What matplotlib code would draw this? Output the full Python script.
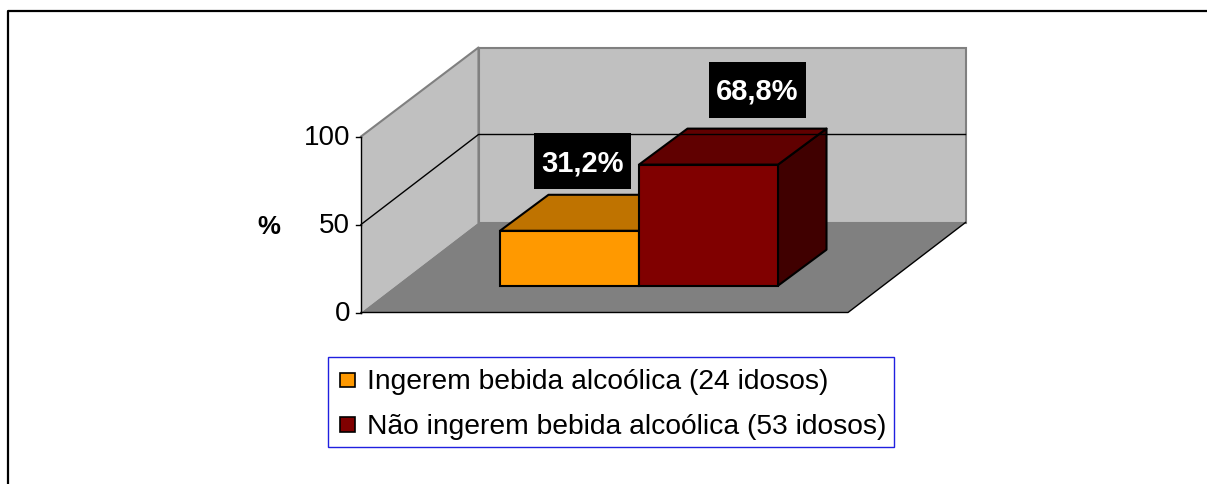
#!/usr/bin/env python3
import matplotlib
matplotlib.use("Agg")
import matplotlib.pyplot as plt
from matplotlib.patches import Polygon, Rectangle

labels = ["Ingerem bebida alcoólica (24 idosos)", "Não ingerem bebida alcoólica (53 idosos)"]
values = [31.2, 68.8]
value_labels = ["31,2%", "68,8%"]
y_ticks = [0, 50, 100]

FRONT = ["#FF9900", "#800000"]
TOP = ["#BF7300", "#600000"]
SIDE = ["#804D00", "#400000"]

W, H = 1207, 484
PX = 1.76  # pixels per percent
Y0 = 312.5  # pixel row of 0 %


def py(p):
    # pixel row -> percent
    return (Y0 - p) / PX


plt.rcParams["font.family"] = ["Liberation Sans", "DejaVu Sans"]

fig = plt.figure(figsize=(W / 100, H / 100), dpi=100)
ax = fig.add_axes([0, 0, 1, 1])
ax.set_xlim(0, W)
ax.set_ylim(py(H), py(0))
ax.axis("off")

# outer frame, only left and top are visible
ax.plot([7.5, 7.5, W], [py(H), py(11), py(11)], color="black", lw=1.6)

# walls and floor
dx, dy = 117.5, 90 / PX
x0, x1 = 361, 848
wall_top = py(47.5)
ax.add_patch(Polygon([(x0, 0), (x0 + dx, dy), (x0 + dx, wall_top), (x0, 100)],
                     fc="#C0C0C0", ec="none"))
ax.add_patch(Polygon([(x0 + dx, dy), (x1 + dx, dy), (x1 + dx, wall_top), (x0 + dx, wall_top)],
                     fc="#C0C0C0", ec="#808080", lw=1.5))
ax.add_patch(Polygon([(x0, 0), (x1, 0), (x1 + dx, dy), (x0 + dx, dy)], fc="#808080", ec="none"))
ax.plot([x0, x0 + dx, x0 + dx], [100, wall_top, dy], color="#808080", lw=1.5)

# gridline
ax.plot([x0, x0 + dx, x1 + dx], [50, 50 + dy, 50 + dy], color="black", lw=1)
ax.plot([x0, x1, x1 + dx], [0, 0, dy], color="black", lw=1)

# y axis
ax.plot([x0, x0], [0, 100], color="black", lw=1)
for t in y_ticks:
    ax.plot([x0 - 5, x0], [t, t], color="black", lw=1)
    ax.text(x0 - 11, t - 1, str(t), ha="right", va="center", fontsize=20, color="black")
ax.text(269, py(227), "%", ha="center", va="center", fontsize=18.5, fontweight="bold")

# bars
base = py(285.7)
bar_w = 139
bar_x = [500, 639]
bdx, bdy = 48.5, 36 / PX
for x, v, f, t, s in zip(bar_x, values, FRONT, TOP, SIDE):
    y = base + v
    ax.add_patch(Polygon([(x + bar_w, base), (x + bar_w + bdx, base + bdy),
                          (x + bar_w + bdx, y + bdy), (x + bar_w, y)],
                         fc=s, ec="black", lw=1.5, joinstyle="round"))
    ax.add_patch(Polygon([(x, y), (x + bar_w, y), (x + bar_w + bdx, y + bdy), (x + bdx, y + bdy)],
                         fc=t, ec="black", lw=1.5, joinstyle="round"))
    ax.add_patch(Rectangle((x, base), bar_w, v, fc=f, ec="black", lw=1.5))

# value labels
for cx, cy, s in zip([582.5, 757.5], [161, 90], value_labels):
    ax.add_patch(Rectangle((cx - 48.5, py(cy + 28)), 97, 56 / PX, fc="black", ec="none"))
    ax.text(cx, py(cy + 2), s, color="white", ha="center", va="center",
            fontsize=21, fontweight="bold")

# legend
ax.add_patch(Rectangle((327.5, py(446.5)), 566, 89.5 / PX, fc="white", ec="#2020E0", lw=1))
for row, f, s in zip([380, 424.5], FRONT, labels):
    ax.add_patch(Rectangle((340, py(row + 7)), 15, 14.5 / PX, fc=f, ec="black", lw=1.2))
    ax.text(367, py(row + 2), s, ha="left", va="center", fontsize=20.3)

fig.savefig("out.png", dpi=100)
plt.close(fig)
print("Saved out.png")
